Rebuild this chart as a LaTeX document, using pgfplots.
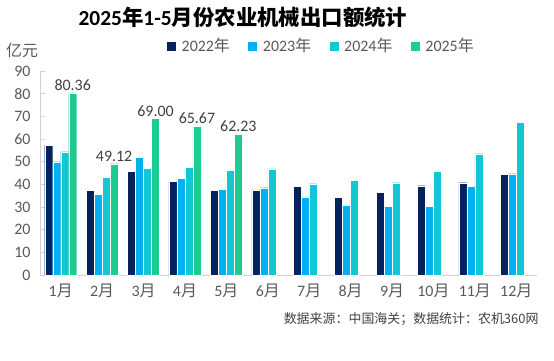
\documentclass[border=0pt]{standalone}
\usepackage{pgfplots}
\pgfplotsset{compat=1.18}
\usepackage{fontspec}
\setmainfont{Carlito}
\newfontfamily\cjk{Noto Sans CJK SC}
\newcommand\yue{{\cjk 月}}
\newcommand\nian{{\cjk 年}}
\definecolor{c22}{RGB}{5,33,94}
\definecolor{c23}{RGB}{0,176,240}
\definecolor{c24}{RGB}{18,199,212}
\definecolor{c25}{RGB}{30,204,146}
\definecolor{txtgrey}{RGB}{89,89,89}
\definecolor{lblgrey}{RGB}{64,64,64}
\definecolor{axisgrey}{RGB}{210,210,210}
\pgfplotsset{sq legend/.style={legend image code/.code={\path[##1,draw=none] (0bp,-4.5bp) rectangle (9bp,4.5bp);}}}
\begin{document}
\begin{tikzpicture}
\path[use as bounding box] (0bp,0bp) rectangle (554bp,361bp);
% title and texts
\node[font=\fontsize{21.5}{24}\selectfont\bfseries] at (243bp,344bp) {2025{\cjk 年}1-5{\cjk 月份农业机械出口额统计}};
\node[font=\fontsize{16}{18}\selectfont\cjk, text=txtgrey] at (22bp,311bp) {亿元};
\node[font=\fontsize{13}{15}\selectfont\cjk, text=lblgrey, anchor=east] at (542bp,42bp) {数据来源：中国海关；数据统计：农机360网};
\begin{axis}[
  at={(40bp,86bp)}, anchor=south west,
  scale only axis, width=497bp, height=204bp,
  ybar=0pt, bar width=8bp,
  xmin=-0.5, xmax=11.5, ymin=0, ymax=90,
  xtick={0,...,11},
  xticklabels={1\yue,2\yue,3\yue,4\yue,5\yue,6\yue,7\yue,8\yue,9\yue,10\yue,11\yue,12\yue},
  ytick={0,10,...,90},
  axis x line=bottom, axis y line=left,
  axis line style={draw=axisgrey, line width=0.8bp, -},
  tick align=inside, major tick length=5bp,
  ytick style={draw=axisgrey, line width=0.8bp},
  xtick style={draw=none},
  ticklabel style={font=\fontsize{16}{18}\selectfont, text=txtgrey},
  /pgf/number format/assume math mode=true,
  yticklabel style={xshift=-6bp},
  xticklabel style={yshift=-5bp},
  clip=false,
  legend columns=4,
  legend style={at={(0.2555,1.1225)}, anchor=west, draw=none, fill=none,
    inner sep=0pt, font=\fontsize{16}{18}\selectfont, text=txtgrey,
    nodes={inner sep=0.5bp},
    /tikz/every odd column/.append style={column sep=5bp},
    /tikz/every even column/.append style={column sep=18bp}},
]
\addplot[fill=c22, draw=white, line width=0.3bp, sq legend] coordinates {
(0,57.3) (1,37.5) (2,45.6) (3,41.2) (4,37.4) (5,37.6) (6,39.0) (7,34.3) (8,36.6) (9,39.4) (10,40.7) (11,44.4)};
\addlegendentry{2022\nian}
\addplot[fill=c23, draw=white, line width=0.3bp, sq legend] coordinates {
(0,50.0) (1,35.6) (2,51.9) (3,42.6) (4,37.8) (5,38.5) (6,34.5) (7,30.9) (8,30.4) (9,30.4) (10,39.0) (11,44.7)};
\addlegendentry{2023\nian}
\addplot[fill=c24, draw=white, line width=0.3bp, sq legend] coordinates {
(0,54.4) (1,43.1) (2,47.1) (3,47.5) (4,46.3) (5,46.8) (6,40.3) (7,41.8) (8,40.7) (9,45.9) (10,53.5) (11,67.4)};
\addlegendentry{2024\nian}
\addplot[fill=c25, draw=white, line width=0.3bp, sq legend,
  nodes near coords,
  nodes near coords style={font=\fontsize{16}{18}\selectfont, text=lblgrey, inner sep=2bp,
    /pgf/number format/.cd, fixed, fixed zerofill, precision=2, assume math mode=true}]
  coordinates {(0,80.36) (1,49.12) (2,69.00) (3,65.67) (4,62.23)};
\addlegendentry{2025\nian}
\end{axis}
\end{tikzpicture}
\end{document}
